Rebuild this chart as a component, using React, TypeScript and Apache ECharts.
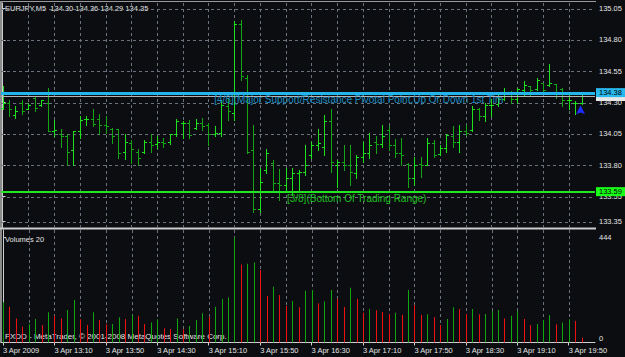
import React, { useEffect, useRef } from "react";
import * as echarts from "echarts";

// ---------- data ----------
const symbol = "EURJPY";
const timeframe = "M5";

const opens = [
  134.26, 134.30, 134.20, 134.30, 134.25, 134.34, 134.28, 134.30, 134.07, 134.05,
  134.03, 133.92, 134.07, 134.17, 134.17, 134.17, 134.12, 134.09, 134.09, 133.91,
  133.98, 133.91, 133.91, 133.99, 133.97, 133.99, 133.99, 134.05, 134.14, 134.14,
  134.10, 134.14, 134.12, 134.05, 134.06, 134.27, 134.22, 134.93, 134.50, 133.92,
  133.45, 133.76, 133.82, 133.66, 133.64, 133.70, 133.74, 133.75, 133.88, 133.96,
  133.95, 134.15, 133.80, 133.83, 133.80, 133.74, 133.87, 133.90, 133.99, 133.97,
  134.08, 133.96, 133.90, 133.81, 133.70, 133.81, 133.80, 133.98, 133.89, 133.94,
  134.03, 133.99, 134.07, 134.08, 134.25, 134.19, 134.28, 134.29, 134.33, 134.38,
  134.33, 134.40, 134.43, 134.41, 134.46, 134.44, 134.45, 134.41, 134.32, 134.30,
  134.30,
];
const highs = [
  134.43, 134.32, 134.27, 134.32, 134.30, 134.35, 134.32, 134.42, 134.16, 134.09,
  134.05, 134.07, 134.19, 134.19, 134.25, 134.21, 134.19, 134.10, 134.09, 134.05,
  134.00, 133.93, 134.00, 134.05, 134.03, 134.02, 134.05, 134.17, 134.15, 134.16,
  134.17, 134.18, 134.14, 134.11, 134.31, 134.34, 134.95, 134.96, 134.52, 134.12,
  133.78, 133.93, 133.84, 133.77, 133.78, 133.78, 133.76, 133.96, 133.99, 134.09,
  134.20, 134.25, 133.84, 133.96, 133.96, 133.88, 133.99, 134.06, 134.03, 134.12,
  134.11, 134.01, 134.02, 133.82, 133.87, 133.87, 134.02, 134.00, 133.96, 134.05,
  134.11, 134.12, 134.12, 134.27, 134.26, 134.30, 134.33, 134.36, 134.42, 134.39,
  134.42, 134.47, 134.43, 134.50, 134.46, 134.61, 134.45, 134.42, 134.36, 134.31,
  134.36,
];
const lows = [
  134.25, 134.19, 134.18, 134.21, 134.25, 134.23, 134.27, 134.07, 134.03, 133.95,
  133.80, 133.80, 134.02, 134.12, 134.11, 134.05, 134.06, 133.98, 133.86, 133.85,
  133.82, 133.80, 133.90, 133.91, 133.94, 133.95, 133.97, 134.03, 134.02, 134.02,
  134.09, 134.08, 133.96, 134.03, 134.03, 134.16, 134.16, 134.48, 133.90, 133.43,
  133.43, 133.74, 133.59, 133.52, 133.59, 133.56, 133.59, 133.72, 133.86, 133.92,
  133.88, 133.75, 133.63, 133.76, 133.64, 133.70, 133.83, 133.86, 133.90, 133.95,
  133.92, 133.87, 133.80, 133.63, 133.64, 133.71, 133.80, 133.87, 133.88, 133.91,
  133.95, 133.91, 134.04, 134.07, 134.16, 134.15, 134.19, 134.27, 134.32, 134.30,
  134.30, 134.35, 134.36, 134.40, 134.38, 134.43, 134.34, 134.27, 134.25, 134.21,
  134.29,
];
const closes = [
  134.30, 134.25, 134.23, 134.23, 134.28, 134.26, 134.32, 134.07, 134.08, 134.03,
  133.91, 134.07, 134.16, 134.17, 134.13, 134.12, 134.11, 134.03, 133.90, 133.99,
  133.93, 133.86, 133.99, 133.96, 133.99, 133.98, 134.05, 134.15, 134.14, 134.04,
  134.14, 134.11, 134.05, 134.06, 134.28, 134.23, 134.93, 134.51, 133.91, 133.45,
  133.67, 133.90, 133.66, 133.64, 133.70, 133.74, 133.75, 133.80, 133.96, 133.98,
  134.15, 133.83, 133.83, 133.80, 133.75, 133.87, 133.90, 133.96, 133.97, 134.03,
  133.96, 133.90, 133.88, 133.70, 133.80, 133.80, 133.98, 133.88, 133.94, 134.04,
  133.99, 134.07, 134.06, 134.25, 134.19, 134.28, 134.28, 134.33, 134.38, 134.33,
  134.41, 134.44, 134.40, 134.48, 134.40, 134.46, 134.38, 134.32, 134.32, 134.30,
  134.35,
];
const volumes = [
  170, 151, 102, 67, 77, 99, 74, 128, 113, 102,
  137, 180, 98, 74, 128, 95, 77, 78, 107, 99,
  116, 113, 78, 85, 98, 60, 57, 102, 56, 70,
  95, 124, 109, 151, 184, 190, 444, 329, 333, 338,
  307, 197, 236, 201, 154, 176, 149, 219, 222, 166,
  173, 222, 184, 150, 232, 184, 126, 142, 136, 129,
  121, 126, 116, 222, 159, 116, 119, 108, 74, 99,
  149, 142, 121, 142, 119, 121, 133, 137, 102, 113,
  133, 99, 74, 78, 95, 116, 77, 85, 98, 91,
  20,
];

const timeTickBars = [0, 8, 16, 24, 32, 40, 48, 56, 64, 72, 80, 88];
const timeTickLabels = [
  "3 Apr 2009", "3 Apr 13:10", "3 Apr 13:50", "3 Apr 14:30", "3 Apr 15:10", "3 Apr 15:50",
  "3 Apr 16:30", "3 Apr 17:10", "3 Apr 17:50", "3 Apr 18:30", "3 Apr 19:10", "3 Apr 19:50",
];
const gridBars = [4, 8, 12, 16, 20, 24, 28, 32, 36, 40, 44, 48, 52, 56, 60, 64, 68, 72, 76, 80, 84, 88];
const priceTicks = [133.35, 133.55, 133.80, 134.05, 134.30, 134.55, 134.80, 135.05];
const volumeTicks = [0, 444];
const levelPrices = [134.38, 133.59];
const levelLabels = [
  "[4/8](Major Support/Resistance Pivotal Point,Up Or Down 1st Tim",
  "[3/8](Bottom Of Trading Range)",
];
const arrowBars = [90];
const arrowPrices = [134.24];

// ---------- styles ----------
const BG = "#0b0d10";
const GRID_COLOR = "#6a737d";
const AXIS_COLOR = "#cfcfcf";
const LABEL_COLOR = "#e4e4e4";
const UP_COLOR = "#1fe01f";
const DOWN_COLOR = "#14a514";
const VOL_UP = "#0ea80e";
const VOL_DOWN = "#f01010";
const FONT = '"Liberation Sans", Arial, sans-serif';
const LEVEL_STYLES = [
  { line: "#22b4ea", width: 3, text: "#1c8dc4", box: "#27b8ee", textBar: 32.9 },
  { line: "#22e622", width: 2, text: "#1fc21f", box: "#19ff19", textBar: 44.2 },
];

const X_MIN = -0.25;
const X_MAX = 92.09;

function buildOption() {
  const ohlc = opens.map((o, i) => [i, o, highs[i], lows[i], closes[i]]);
  const vol = volumes.map((v, i) => [i, v]);
  const last = closes.length - 1;
  const header = `${symbol},${timeframe}  ${opens[last].toFixed(2)} ${highs[last].toFixed(2)} ${lows[last].toFixed(2)} ${closes[last].toFixed(2)}`;

  const hLine = (y: number, cs: any, color: string, width: number, dash?: number[]) => ({
    type: "line",
    shape: { x1: cs.x, y1: y, x2: cs.x + cs.width, y2: y },
    style: { stroke: color, lineWidth: width, lineDash: dash },
  });

  return {
    animation: false,
    backgroundColor: BG,
    grid: [
      { left: 1, top: 3, width: 594, height: 225 },
      { left: 1, top: 230, width: 594, height: 112.5 },
    ],
    xAxis: [
      {
        type: "value", gridIndex: 0, min: X_MIN, max: X_MAX,
        axisLine: { show: false }, axisTick: { show: false }, axisLabel: { show: false }, splitLine: { show: false },
      },
      {
        type: "value", gridIndex: 1, min: X_MIN, max: X_MAX,
        axisLine: { show: true, onZero: false, lineStyle: { color: AXIS_COLOR, width: 1 } },
        axisTick: { show: true, customValues: timeTickBars, length: 3, lineStyle: { color: AXIS_COLOR } },
        axisLabel: {
          show: true, customValues: timeTickBars, align: "left", margin: 4,
          color: LABEL_COLOR, fontSize: 7.5, fontFamily: FONT,
          formatter: (v: number) => timeTickLabels[timeTickBars.indexOf(Math.round(v))] ?? "",
        },
        splitLine: { show: false },
      },
    ],
    yAxis: [
      {
        type: "value", gridIndex: 0, position: "right", min: 133.3, max: 135.095,
        axisLine: { show: true, lineStyle: { color: AXIS_COLOR } },
        axisTick: { show: true, customValues: priceTicks, length: 3, lineStyle: { color: AXIS_COLOR } },
        axisLabel: {
          show: true, customValues: priceTicks, margin: 4, color: LABEL_COLOR, fontSize: 7.5, fontFamily: FONT,
          formatter: (v: number) => v.toFixed(2),
        },
        splitLine: { show: false },
      },
      {
        type: "value", gridIndex: 1, position: "right", min: 0, max: 475.7,
        axisLine: { show: true, lineStyle: { color: AXIS_COLOR } },
        axisTick: { show: true, customValues: volumeTicks, length: 3, lineStyle: { color: AXIS_COLOR } },
        axisLabel: {
          show: true, customValues: volumeTicks, margin: 4, color: LABEL_COLOR, fontSize: 7.5, fontFamily: FONT,
          formatter: (v: number) => (v === 0 ? "{b|0}" : String(Math.round(v))),
          rich: { b: { padding: [0, 0, 9, 0], color: LABEL_COLOR, fontSize: 7.5, fontFamily: FONT } },
        },
        splitLine: { show: false },
      },
    ],
    series: [
      // horizontal grid, price pane
      {
        type: "custom", xAxisIndex: 0, yAxisIndex: 0, z: 1, silent: true,
        data: priceTicks.map((p) => [0, p]), encode: { x: 0, y: 1 },
        renderItem: (params: any, api: any) => {
          const y = Math.round(api.coord([0, api.value(1)])[1]) + 0.5;
          return hLine(y, params.coordSys, GRID_COLOR, 1, [3, 3]);
        },
      },
      // vertical grid, price pane
      {
        type: "custom", xAxisIndex: 0, yAxisIndex: 0, z: 1, silent: true,
        data: gridBars.map((b) => [b, 134]), encode: { x: 0, y: 1 },
        renderItem: (params: any, api: any) => {
          const cs = params.coordSys;
          const x = Math.round(api.coord([api.value(0), 134])[0]) + 0.5;
          return {
            type: "line", shape: { x1: x, y1: cs.y, x2: x, y2: cs.y + cs.height },
            style: { stroke: GRID_COLOR, lineWidth: 1, lineDash: [3, 3] },
          };
        },
      },
      // vertical grid, volume pane
      {
        type: "custom", xAxisIndex: 1, yAxisIndex: 1, z: 1, silent: true,
        data: gridBars.map((b) => [b, 0]), encode: { x: 0, y: 1 },
        renderItem: (params: any, api: any) => {
          const cs = params.coordSys;
          const x = Math.round(api.coord([api.value(0), 0])[0]) + 0.5;
          return {
            type: "line", shape: { x1: x, y1: cs.y, x2: x, y2: cs.y + cs.height },
            style: { stroke: GRID_COLOR, lineWidth: 1, lineDash: [3, 3] },
          };
        },
      },
      // OHLC bars
      {
        type: "custom", xAxisIndex: 0, yAxisIndex: 0, z: 3, silent: true,
        data: ohlc, encode: { x: 0, y: [1, 2, 3, 4] },
        renderItem: (params: any, api: any) => {
          const i = api.value(0);
          const o = api.value(1), h = api.value(2), l = api.value(3), c = api.value(4);
          const ph = api.coord([i, h]), pl = api.coord([i, l]);
          const po = api.coord([i, o]), pc = api.coord([i, c]);
          const x = Math.round(ph[0]) + 0.5;
          const color = c >= o ? UP_COLOR : DOWN_COLOR;
          const yo = Math.round(po[1]) + 0.5, yc = Math.round(pc[1]) + 0.5;
          return {
            type: "group",
            children: [
              { type: "line", shape: { x1: x, y1: Math.round(ph[1]), x2: x, y2: Math.round(pl[1]) + 1 }, style: { stroke: color, lineWidth: 1 } },
              { type: "line", shape: { x1: x - 2.5, y1: yo, x2: x, y2: yo }, style: { stroke: color, lineWidth: 1 } },
              { type: "line", shape: { x1: x, y1: yc, x2: x + 2.5, y2: yc }, style: { stroke: color, lineWidth: 1 } },
            ],
          };
        },
      },
      // bid line (last close), its label box sits under the level box
      {
        type: "custom", xAxisIndex: 0, yAxisIndex: 0, z: 4, silent: true,
        data: [[last, closes[last]]], encode: { x: 0, y: 1 },
        renderItem: (params: any, api: any) => {
          const cs = params.coordSys;
          const p = api.value(1);
          const y = Math.round(api.coord([0, p])[1]) + 0.5;
          return {
            type: "group",
            children: [
              hLine(y, cs, "#b4b4b4", 1),
              { type: "rect", shape: { x: cs.x + cs.width + 1, y: y - 4.5, width: 30, height: 9 }, style: { fill: "#e6e6e6" } },
            ],
          };
        },
      },
      // support / resistance levels
      {
        type: "custom", xAxisIndex: 0, yAxisIndex: 0, z: 5, silent: true,
        data: levelPrices.map((p, k) => [k, p]), encode: { x: 0, y: 1 },
        renderItem: (params: any, api: any) => {
          const cs = params.coordSys;
          const k = params.dataIndex;
          const st = LEVEL_STYLES[k];
          const p = api.value(1);
          const y = api.coord([0, p])[1];
          const yl = Math.round(y) + (st.width % 2 ? 0.5 : 0);
          const tx = api.coord([st.textBar, p])[0];
          return {
            type: "group",
            children: [
              hLine(yl, cs, st.line, st.width),
              { type: "text", style: { x: tx, y: y + 7, text: levelLabels[k], fill: st.text, fontSize: 10, fontFamily: FONT, align: "left", verticalAlign: "middle" } },
              { type: "rect", shape: { x: cs.x + cs.width + 1, y: y - 4.5, width: 30, height: 9 }, style: { fill: st.box } },
              { type: "text", style: { x: cs.x + cs.width + 4, y: y, text: p.toFixed(2), fill: "#000", fontSize: 7.5, fontFamily: FONT, align: "left", verticalAlign: "middle" } },
            ],
          };
        },
      },
      // arrow marker
      {
        type: "custom", xAxisIndex: 0, yAxisIndex: 0, z: 6, silent: true,
        data: arrowBars.map((b, k) => [b, arrowPrices[k]]), encode: { x: 0, y: 1 },
        renderItem: (params: any, api: any) => {
          const pt = api.coord([api.value(0), api.value(1)]);
          const cx = pt[0] - 1, cy = pt[1];
          return {
            type: "polygon",
            shape: { points: [[cx, cy - 5], [cx + 4.5, cy + 4], [cx + 1, cy + 2.5], [cx - 1, cy + 2.5], [cx - 4.5, cy + 4]] },
            style: { fill: "#1e2cff" },
          };
        },
      },
      // volumes
      {
        type: "custom", xAxisIndex: 1, yAxisIndex: 1, z: 3, silent: true,
        data: vol, encode: { x: 0, y: 1 },
        renderItem: (params: any, api: any) => {
          const i = api.value(0), v = api.value(1);
          const p0 = api.coord([i, 0]), p1 = api.coord([i, v]);
          const x = Math.round(p0[0]);
          const color = i > 0 && v <= volumes[i - 1] ? VOL_DOWN : VOL_UP;
          return {
            type: "rect",
            shape: { x: x, y: p1[1], width: 1, height: p0[1] - p1[1] },
            style: { fill: color },
          };
        },
      },
    ],
    graphic: [
      { type: "line", shape: { x1: 0, y1: 1.5, x2: 596, y2: 1.5 }, style: { stroke: "#9a9a9a", lineWidth: 1 }, silent: true },
      { type: "line", shape: { x1: 1, y1: 1, x2: 1, y2: 343 }, style: { stroke: "#8a8a8a", lineWidth: 2 }, silent: true },
      { type: "line", shape: { x1: 0, y1: 228.5, x2: 596, y2: 228.5 }, style: { stroke: "#cdcdcd", lineWidth: 2 }, silent: true },
      {
        type: "text", left: 5, top: 4, silent: true,
        style: { text: header, fill: LABEL_COLOR, fontSize: 7.5, fontFamily: FONT },
      },
      {
        type: "text", left: 5, top: 235, silent: true,
        style: { text: `Volumes ${volumes[last]}`, fill: LABEL_COLOR, fontSize: 7.5, fontFamily: FONT },
      },
      {
        type: "text", left: 5, top: 332, silent: true,
        style: { text: "FXDD - MetaTrader, © 2001-2008 MetaQuotes Software Corp.", fill: LABEL_COLOR, fontSize: 8, fontFamily: FONT },
      },
    ],
  };
}

export default function App() {
  const ref = useRef<HTMLDivElement>(null);
  useEffect(() => {
    if (!ref.current) return;
    const chart = echarts.init(ref.current, null, { renderer: "svg" });
    chart.setOption(buildOption() as any);
    return () => chart.dispose();
  }, []);
  return (
    <div
      ref={ref}
      style={{ position: "fixed", left: 0, top: 0, width: 625, height: 357, background: BG }}
    />
  );
}
